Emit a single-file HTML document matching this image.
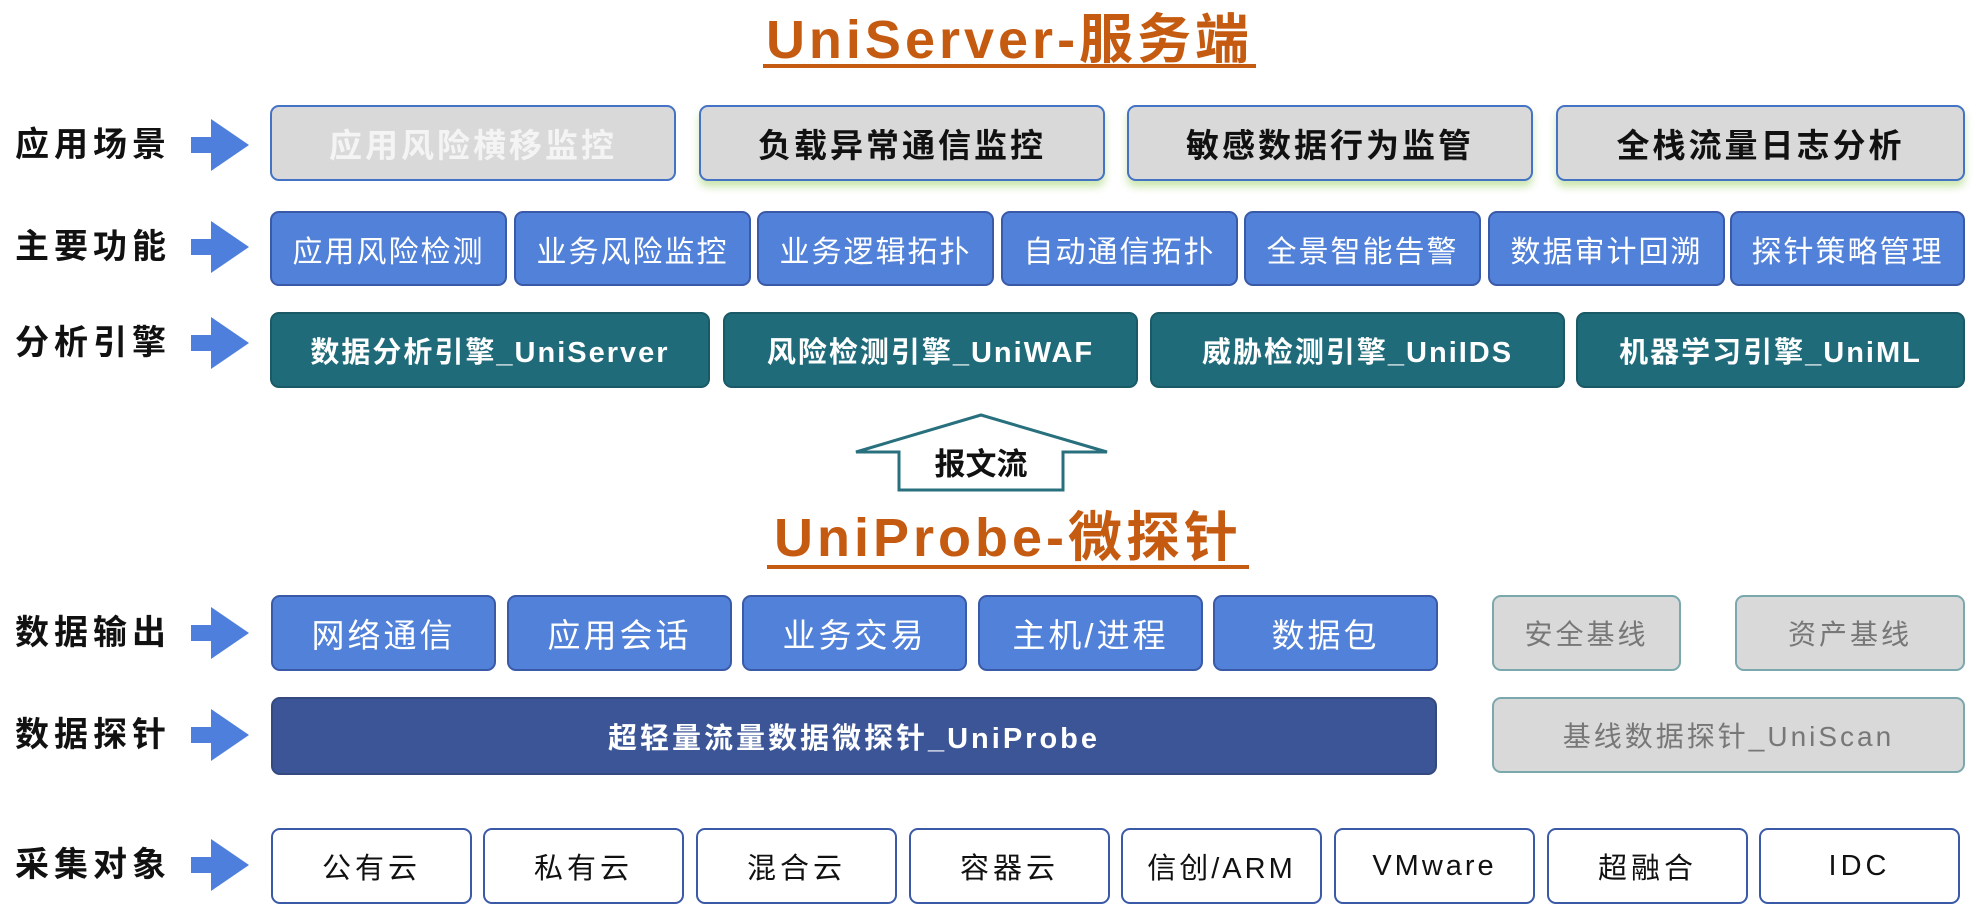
<!DOCTYPE html>
<html><head><meta charset="utf-8"><style>
*{margin:0;padding:0;box-sizing:border-box}
body{width:1979px;height:911px;background:#fff;position:relative;overflow:hidden;font-family:"Liberation Sans","Noto Sans CJK SC",sans-serif}
.a{position:absolute}
.b{position:absolute;display:flex;align-items:center;justify-content:center;border-radius:9px;white-space:nowrap}
.lab{position:absolute;left:15px;font-weight:bold;font-size:34px;letter-spacing:5px;color:#111;line-height:1}
.t{position:absolute;color:#c55a11;font-weight:bold;font-size:54px;letter-spacing:4px;line-height:1;white-space:nowrap;text-align:center}
.g{background:#d9d9d9;border:2px solid #4472c4;font-weight:bold;font-size:33px;letter-spacing:3px;color:#111;height:76px;top:105px}
.f{background:#5181d9;border:2px solid #3a5aa8;color:#fff;font-size:30px;letter-spacing:2px;top:211px;height:75px;width:237px}
.e{background:#1f6b7a;border:2px solid #1a5a66;color:#fff;font-weight:bold;font-size:29px;letter-spacing:2px;top:312px;height:76px}
.o{background:#5181d9;border:2px solid #3a5aa8;color:#fff;font-size:33px;letter-spacing:3px;top:595px;height:76px;width:225px}
.gr{background:#d9d9d9;border:2px solid #7aa8ad;color:#777;font-size:28px;letter-spacing:3px}
.c{background:#fff;border:2px solid #3a5aa8;color:#111;font-size:29px;letter-spacing:4px;top:828px;height:76px;width:201px}
</style></head><body>
<div class="t" style="left:763px;top:13px;width:493px">UniServer-服务端</div>
<div class="a" style="left:763px;top:64px;width:493px;height:4px;background:#c55a11"></div>
<div class="t" style="left:767px;top:511px;width:482px">UniProbe-微探针</div>
<div class="a" style="left:767px;top:565px;width:482px;height:4px;background:#c55a11"></div>

<svg class="a" style="left:0;top:0" width="1979" height="911">
<defs><polygon id="ar" points="0,-8 20,-8 20,-26 58,0 20,26 20,8 0,8" fill="#4f7fdc"/></defs>
<use href="#ar" x="191" y="145"/>
<use href="#ar" x="191" y="247"/>
<use href="#ar" x="191" y="343"/>
<use href="#ar" x="191" y="633"/>
<use href="#ar" x="191" y="735"/>
<use href="#ar" x="191" y="865"/>
<polygon points="981,415 1107,452 1063,452 1063,490 899,490 899,452 856,452" fill="#fff" stroke="#28707e" stroke-width="3"/>
<text x="981" y="475" text-anchor="middle" font-family="Liberation Sans,Noto Sans CJK SC,sans-serif" font-weight="bold" font-size="31" fill="#111">报文流</text>
</svg>

<div class="lab" style="top:128px">应用场景</div>
<div class="lab" style="top:230px">主要功能</div>
<div class="lab" style="top:326px">分析引擎</div>
<div class="lab" style="top:616px">数据输出</div>
<div class="lab" style="top:718px">数据探针</div>
<div class="lab" style="top:848px">采集对象</div>

<div class="b g" style="left:270px;width:406px;color:#f4f4f4">应用风险横移监控</div>
<div class="b g" style="left:699px;width:406px;box-shadow:0 6px 8px rgba(140,200,80,.45)">负载异常通信监控</div>
<div class="b g" style="left:1127px;width:406px;box-shadow:0 6px 8px rgba(140,200,80,.45)">敏感数据行为监管</div>
<div class="b g" style="left:1556px;width:409px;box-shadow:0 6px 8px rgba(140,200,80,.45)">全栈流量日志分析</div>

<div class="b f" style="left:270px">应用风险检测</div>
<div class="b f" style="left:514px">业务风险监控</div>
<div class="b f" style="left:757px">业务逻辑拓扑</div>
<div class="b f" style="left:1001px">自动通信拓扑</div>
<div class="b f" style="left:1244px">全景智能告警</div>
<div class="b f" style="left:1488px">数据审计回溯</div>
<div class="b f" style="left:1730px;width:235px">探针策略管理</div>

<div class="b e" style="left:270px;width:440px">数据分析引擎_UniServer</div>
<div class="b e" style="left:723px;width:415px">风险检测引擎_UniWAF</div>
<div class="b e" style="left:1150px;width:415px">威胁检测引擎_UniIDS</div>
<div class="b e" style="left:1576px;width:389px">机器学习引擎_UniML</div>

<div class="b o" style="left:271px">网络通信</div>
<div class="b o" style="left:507px">应用会话</div>
<div class="b o" style="left:742px">业务交易</div>
<div class="b o" style="left:978px">主机/进程</div>
<div class="b o" style="left:1213px">数据包</div>
<div class="b gr" style="left:1492px;top:595px;width:189px;height:76px">安全基线</div>
<div class="b gr" style="left:1735px;top:595px;width:230px;height:76px">资产基线</div>

<div class="b" style="left:271px;top:697px;width:1166px;height:78px;background:#3b5597;border:2px solid #33497f;color:#fff;font-weight:bold;font-size:29px;letter-spacing:3px">超轻量流量数据微探针_UniProbe</div>
<div class="b gr" style="left:1492px;top:697px;width:473px;height:76px">基线数据探针_UniScan</div>

<div class="b c" style="left:271px">公有云</div>
<div class="b c" style="left:483px">私有云</div>
<div class="b c" style="left:696px">混合云</div>
<div class="b c" style="left:909px">容器云</div>
<div class="b c" style="left:1121px;letter-spacing:3px">信创/ARM</div>
<div class="b c" style="left:1334px;letter-spacing:3px">VMware</div>
<div class="b c" style="left:1547px">超融合</div>
<div class="b c" style="left:1759px">IDC</div>
</body></html>
